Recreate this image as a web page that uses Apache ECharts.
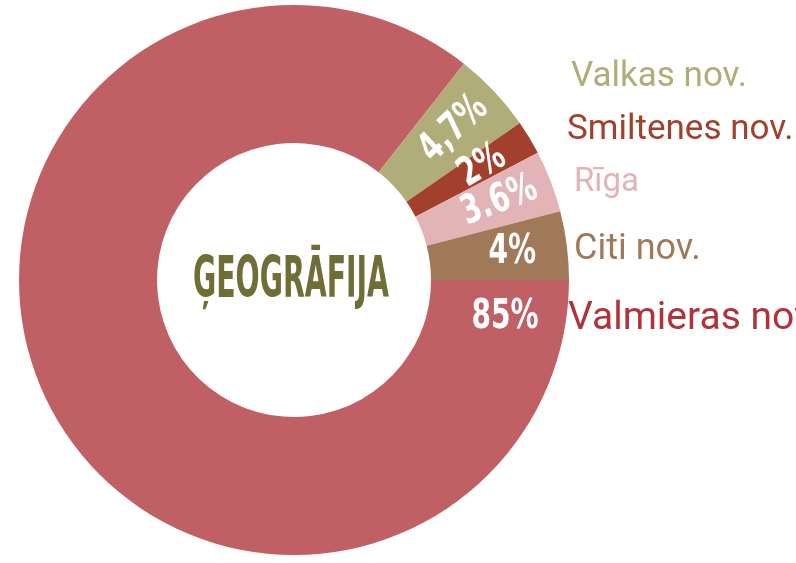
<!DOCTYPE html>
<html>
<head>
<meta charset="utf-8">
<script src="https://cdn.jsdelivr.net/npm/echarts@6/dist/echarts.min.js"></script>
<style>
html, body { margin: 0; padding: 0; background: #fff; }
#chart { width: 796px; height: 563px; }
</style>
</head>
<body>
<div id="chart"></div>
<script>
// data
var regions = ['Valmieras nov.', 'Valkas nov.', 'Smiltenes nov.', 'Rīga', 'Citi nov.'];
var shares = [85, 4.7, 2, 3.6, 4];
var shareLabels = ['85%', '4,7%', '2%', '3.6%', '4%'];
var title = 'ĢEOGRĀFIJA';

// styles
var sliceColors = ['#c06065', '#b0ad78', '#a2402c', '#e2b4b5', '#a07a58'];
var nameColors = ['#b0333a', '#b0ad78', '#a2402c', '#e2b4b5', '#a07a58'];
// name labels on the right, [x, y] and font size
var namePos = [[568, 319], [571, 77], [567, 130], [574, 183], [574, 250]];
var nameSize = [39, 35, 35, 33, 36];

var cx = 294, cy = 280;
var condensed = '"DejaVu Sans Condensed", "Liberation Sans", sans-serif';

// no narrow font installed: squeeze text to a given width
var measureCtx = document.createElement('canvas').getContext('2d');
function textWidth(text, font) {
  measureCtx.font = font;
  return measureCtx.measureText(text).width;
}

var chart = echarts.init(document.getElementById('chart'));

chart.setOption({
  animation: false,
  series: [{
    type: 'pie',
    center: [cx, cy],
    radius: [137, 275],
    startAngle: 0,
    clockwise: true,
    silent: true,
    label: { show: false },
    labelLine: { show: false },
    data: regions.map(function (name, i) {
      return { name: name, value: shares[i], itemStyle: { color: sliceColors[i] } };
    })
  }]
});

var graphics = [];

// region names at the right
regions.forEach(function (name, i) {
  graphics.push({
    type: 'text',
    z: 100,
    x: namePos[i][0],
    y: namePos[i][1],
    silent: true,
    style: {
      text: name,
      fill: nameColors[i],
      fontFamily: 'Roboto',
      fontSize: nameSize[i],
      align: 'left',
      verticalAlign: 'middle'
    }
  });
});

// percent labels inside the ring, placed from the pie layout
var pieData = chart.getModel().getSeriesByIndex(0).getData();
shareLabels.forEach(function (txt, i) {
  var lay = pieData.getItemLayout(i);
  var mid = (lay.startAngle + lay.endAngle) / 2;
  var rr = (lay.r0 + lay.r) / 2 + 14;
  var x = lay.cx + rr * Math.cos(mid);
  var y = lay.cy + rr * Math.sin(mid);
  var rot = -mid;
  if (i === 0) { x = 505; y = 318; rot = 0; }
  if (i === 4) rot = 0;
  graphics.push({
    type: 'text',
    z: 100,
    x: x,
    y: y,
    rotation: rot,
    scaleX: 0.78,
    silent: true,
    style: {
      text: txt,
      fill: '#fff',
      fontFamily: condensed,
      fontWeight: 'bold',
      fontSize: 40,
      align: 'center',
      verticalAlign: 'middle'
    }
  });
});

// title in the hole
var titleFont = 'bold 57px ' + condensed;
graphics.push({
  type: 'text',
  z: 100,
  x: 291,
  y: 282,
  scaleX: 196 / textWidth(title, titleFont),
  silent: true,
  style: {
    text: title,
    fill: '#6e6e36',
    fontFamily: condensed,
    fontWeight: 'bold',
    fontSize: 57,
    align: 'center',
    verticalAlign: 'middle'
  }
});

chart.setOption({ graphic: graphics });
</script>
</body>
</html>
